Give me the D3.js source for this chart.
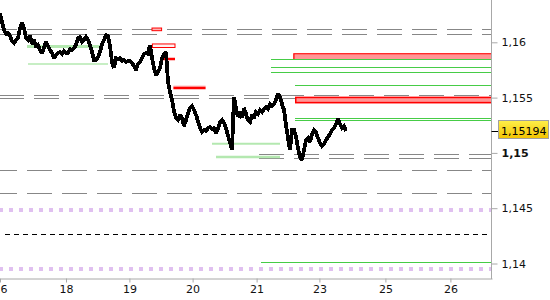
<!DOCTYPE html>
<html><head><meta charset="utf-8">
<script src="https://cdn.jsdelivr.net/npm/d3@7"></script>
<style>body{margin:0;background:#fff;} svg{display:block;font-family:"DejaVu Sans",Verdana,sans-serif;}</style>
</head><body><svg id="c" width="550" height="300"></svg>
<script>
// ---- data ----
const dayLabels = ["16","18","19","20","21","23","25","26"];
const dayTickIndex = [0, 33, 64.7, 96.3, 128.3, 159.7, 192.7, 225.2];
const priceTicks = [1.14, 1.145, 1.15, 1.155, 1.16];
const lastPrice = 1.15194;
const prices = [
1.16265,1.16184,1.16111,1.16075,1.16084,1.16057,1.16012,1.15994,1.16021,1.16039,
1.16129,1.16175,1.16129,1.16039,1.16021,1.16057,1.15985,1.16021,1.15957,1.15976,
1.1593,1.15903,1.15948,1.16003,1.15967,1.1593,1.15903,1.15858,1.15885,1.15903,
1.15912,1.15894,1.15921,1.15903,1.15903,1.15939,1.1593,1.15948,1.15976,1.16039,
1.16048,1.16003,1.16021,1.16048,1.16021,1.15976,1.15912,1.1584,1.1584,1.15867,
1.15912,1.15985,1.16021,1.16066,1.16057,1.15967,1.15822,1.15768,1.15858,1.15849,
1.15858,1.15831,1.1584,1.15822,1.15831,1.15831,1.15813,1.15786,1.1575,1.15804,
1.15822,1.15858,1.15894,1.15903,1.15894,1.15976,1.15858,1.15768,1.15704,1.15731,
1.15768,1.15858,1.15894,1.15912,1.15641,1.15551,1.15478,1.15379,1.15316,1.15297,
1.15343,1.15316,1.15243,1.15297,1.15361,1.15406,1.15424,1.15388,1.15343,1.15288,
1.15225,1.15189,1.15207,1.15198,1.15225,1.15234,1.15216,1.15225,1.1518,1.15216,
1.15279,1.15297,1.1527,1.15225,1.15153,1.15099,1.15026,1.15505,1.15406,1.15325,
1.1537,1.15316,1.15406,1.15352,1.15297,1.15279,1.15343,1.15316,1.1537,1.15352,
1.15388,1.1537,1.15397,1.15415,1.15397,1.15442,1.15424,1.15442,1.15478,1.15533,
1.15505,1.15442,1.15388,1.15252,1.15135,1.15026,1.15207,1.15207,1.15144,1.15044,
1.14963,1.14936,1.15026,1.15117,1.15135,1.15099,1.15171,1.15207,1.15189,1.15135,
1.1509,1.15062,1.1508,1.15117,1.15144,1.15171,1.15207,1.15225,1.15261,1.15307,
1.15261,1.15225,1.15243,1.15198];

const grayLevelsA = [1.16116, 1.16075, 1.14843, 1.14637];
const grayLevelsB = [1.15528, 1.15492];
const grayLevelsRecent = [1.14987, 1.14951];
const grayRecentStart = 129.5;
const dottedLevels = [1.14484, 1.1395];
const blackDashedLevel = 1.14264;
const blackDashedStart = 2.5;
const paleGreenLevels = [1.15962, 1.15804, 1.15083, 1.14963];
const paleGreenStarts = [13.5, 14, 106, 108];
const paleGreenEnds = [50, 54, 140, 140];
const greenLevels = [1.15846, 1.15774, 1.15729, 1.15611, 1.15313, 1.15295, 1.14011];
const greenStarts = [135.5, 135.5, 135.5, 147.5, 147.5, 147.5, 130.5];
const zoneLow = [1.15846, 1.15448];
const zoneHigh = [1.15901, 1.15508];
const zoneStart = [146.7, 147.5];
const markLow = [1.16105, 1.15953];
const markHigh = [1.16129, 1.15985];
const markStart = [76, 76.2];
const markEnd = [80.8, 87.5];
const redLineLevels = [1.15849, 1.15587];
const redLineStarts = [80.5, 86.7];
const redLineEnds = [87.5, 102.8];

// ---- layout ----
const W = 550, H = 300, plotR = 492, plotB = 278;
const x = d3.scaleLinear().domain([0, 246]).range([0, plotR]);
const y = d3.scaleLinear().domain([1.14, 1.16]).range([263.5, 42.3]);
const crisp = v => Math.round(y(v)) + 0.5;
const endIdx = x.domain()[1];

const svg = d3.select("#c");
svg.append("defs").append("clipPath").attr("id","clip")
  .append("rect").attr("x",0).attr("y",0).attr("width",plotR).attr("height",plotB);
const g = svg.append("g").attr("clip-path","url(#clip)");

function hline(v, s, e, stroke, w, dash, off, pix) {
  const yy = pix ? crisp(v) : y(v);
  return g.append("line").attr("x1", x(s)).attr("x2", x(e)).attr("y1", yy).attr("y2", yy)
    .attr("stroke", stroke).attr("stroke-width", w)
    .attr("stroke-dasharray", dash || null).attr("stroke-dashoffset", off || 0)
    .attr("shape-rendering", pix ? "crispEdges" : null);
}

grayLevelsA.forEach(v => hline(v, 0, endIdx, "#878787", 1, "25,10", 8.3, true));
grayLevelsB.forEach(v => hline(v, 0, endIdx, "#878787", 1, "25,10", 1, true));
grayLevelsRecent.forEach(v => hline(v, grayRecentStart, endIdx, "#878787", 1, "25,10", 0, true));
dottedLevels.forEach(v => hline(v, 0, endIdx, "#e0c0f0", 4, "4,6", 1, false));
hline(blackDashedLevel, blackDashedStart, endIdx, "#000", 1, "5,4", 0, true);

const pgW = [3, 1.5, 2, 2.5];
paleGreenLevels.forEach((v,i) => hline(v, paleGreenStarts[i], paleGreenEnds[i], "#b4e8b0", pgW[i], null, 0, false));

// red zones
zoneLow.forEach((lo,i) => {
  const y0 = y(zoneHigh[i]), y1 = y(lo), x0 = x(zoneStart[i]);
  g.append("rect").attr("x", x0).attr("y", y0).attr("width", plotR - x0).attr("height", y1 - y0)
    .attr("fill", "#ff9696");
  if (i === 0) {
    g.append("path").attr("d", `M${x0+0.5},${y1}V${y0+0.5}H${plotR}`)
      .attr("fill","none").attr("stroke","#ff0000").attr("stroke-width",1.2);
  } else {
    g.append("rect").attr("x", x0+0.75).attr("y", y0+0.75).attr("width", plotR - x0).attr("height", y1 - y0 - 1.5)
      .attr("fill","none").attr("stroke","#ff0000").attr("stroke-width",1.5);
  }
});
greenLevels.forEach((v,i) => hline(v, greenStarts[i], endIdx, "#46cc46", 1, null, 0, true));

// red markers
const markFill = ["#ffb4b4", "#fff2f2"];
markLow.forEach((lo,i) => {
  const y0 = y(markHigh[i]), y1 = y(lo);
  g.append("rect").attr("x", x(markStart[i])).attr("y", y0)
    .attr("width", x(markEnd[i]) - x(markStart[i])).attr("height", y1 - y0)
    .attr("fill", markFill[i]).attr("stroke", "#ff0000").attr("stroke-width", 1);
});
redLineLevels.forEach((v,i) => {
  if (i === 1) hline(v, redLineStarts[i], redLineEnds[i], "#ffa0a0", 1, null, 0, false).attr("transform","translate(0,-1.8)");
  hline(v, redLineStarts[i], redLineEnds[i], "#ff0000", 2.5, null, 0, false);
});

// price line
g.append("path").datum(prices)
  .attr("d", d3.line().x((d,i) => x(i)).y(d => y(d)))
  .attr("fill","none").attr("stroke","#000").attr("stroke-width",3.8)
  .attr("stroke-linejoin","miter").attr("stroke-miterlimit",2)
  .attr("shape-rendering","crispEdges");

// ---- axes ----
const axCol = "#a8a8a8";
const xAxis = svg.append("g").attr("transform", `translate(0,${plotB + 0.5})`)
  .call(d3.axisBottom(x).tickValues(dayTickIndex).tickFormat((d,i) => dayLabels[i]).tickSize(4).tickSizeOuter(0).tickPadding(3));
xAxis.select(".domain").attr("stroke", axCol);
xAxis.selectAll(".tick line").attr("stroke", axCol);
xAxis.selectAll("text").attr("fill", "#111").attr("font-size", 11).attr("font-family", '"DejaVu Sans", sans-serif');

svg.append("line").attr("x1", plotR - 0.5).attr("x2", plotR - 0.5).attr("y1", 0).attr("y2", plotB + 1)
  .attr("stroke", axCol).attr("stroke-width", 1);
const yAxis = svg.append("g").attr("transform", `translate(${plotR - 0.5},0)`)
  .call(d3.axisRight(y).tickValues(priceTicks).tickFormat(d => String(+d.toFixed(3)).replace(".", ",")).tickSize(6).tickPadding(4));
yAxis.select(".domain").remove();
yAxis.selectAll(".tick line").attr("stroke", axCol);
yAxis.selectAll("text").attr("fill", "#111").attr("font-size", 11).attr("font-family", '"DejaVu Sans", sans-serif')
  .attr("font-weight", d => d === 1.15 ? "bold" : "normal");

// last price badge
const grad = svg.select("defs").append("linearGradient").attr("id","gold").attr("x1",0).attr("y1",0).attr("x2",0).attr("y2",1);
grad.append("stop").attr("offset","0%").attr("stop-color","#fff04a");
grad.append("stop").attr("offset","100%").attr("stop-color","#f2c200");
const ly = y(lastPrice);
svg.append("line").attr("x1", plotR - 0.5).attr("x2", plotR + 7).attr("y1", Math.round(ly) + 0.5).attr("y2", Math.round(ly) + 0.5)
  .attr("stroke", "#000").attr("stroke-width", 1);
svg.append("rect").attr("x", 498.5).attr("y", Math.round(ly) - 10.5).attr("width", 50).attr("height", 18)
  .attr("fill", "url(#gold)").attr("stroke", "#a0a0a0");
svg.append("text").attr("x", 501).attr("y", ly + 4).attr("font-size", 11).attr("fill", "#000")
  .text(String(lastPrice).replace(".", ","));
</script></body></html>
